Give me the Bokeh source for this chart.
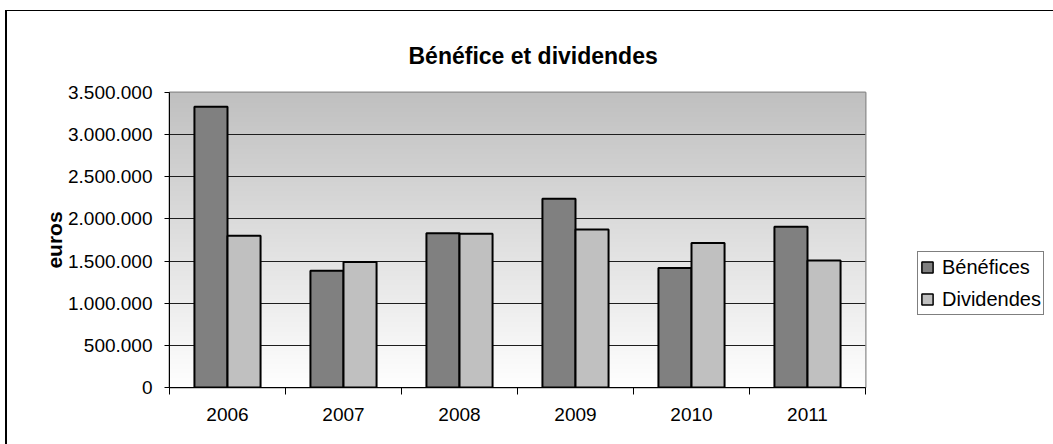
import numpy as np
from bokeh.plotting import figure
from bokeh.layouts import row
from bokeh.models import (Range1d, FixedTicker, Legend, LegendItem)
from bokeh.embed import file_html
from bokeh.resources import INLINE

# ---- data ----
years = ["2006", "2007", "2008", "2009", "2010", "2011"]
benefices = [3330000, 1385000, 1830000, 2240000, 1417000, 1908000]
dividendes = [1800000, 1490000, 1825000, 1876000, 1714000, 1507000]
y_ticks = [0, 500000, 1000000, 1500000, 2000000, 2500000, 3000000, 3500000]
y_tick_labels = ["0", "500.000", "1.000.000", "1.500.000", "2.000.000",
                 "2.500.000", "3.000.000", "3.500.000"]
title_text = "Bénéfice et dividendes"
y_title = "euros"
series_names = ["Bénéfices", "Dividendes"]
colors = ["#808080", "#c0c0c0"]

FONT = "Liberation Sans"
y_max = y_ticks[-1]
n = len(years)
bar_w = 0.285

H = 433
p = figure(width=868, height=H, output_backend="svg", toolbar_location=None,
           x_range=Range1d(0, n), y_range=Range1d(0, y_max),
           min_border_left=162, min_border_right=10, min_border_top=81,
           min_border_bottom=57, title=title_text)
p.title.text_font = FONT
p.title.text_font_size = "23px"
p.title.text_font_style = "bold"
p.title.text_color = "black"
p.title.align = "left"
p.title.offset = 239
p.title.standoff = 48
p.outline_line_color = "#8c8c8c"
p.outline_line_width = 2
p.background_fill_color = "white"

# gradient background of the plot area
rows = 300
shade = np.linspace(255, 192, rows).astype(np.uint32)
img = np.empty((rows, 1), dtype=np.uint32)
img[:, 0] = (255 << 24) | (shade << 16) | (shade << 8) | shade
p.image_rgba(image=[img], x=0, y=0, dw=n, dh=y_max, level="image")

centers = [i + 0.5 for i in range(n)]
xb = [c - bar_w / 2 for c in centers]
xd = [c + bar_w / 2 for c in centers]
p.vbar(x=xb, top=benefices, width=bar_w, bottom=0,
       fill_color=colors[0], line_color="black", line_width=2)
p.vbar(x=xd, top=dividendes, width=bar_w, bottom=0,
       fill_color=colors[1], line_color="black", line_width=2)

# y axis
yax = p.yaxis[0]
yax.ticker = FixedTicker(ticks=y_ticks, minor_ticks=[])
yax.major_label_overrides = {t: s for t, s in zip(y_ticks, y_tick_labels)}
yax.major_label_text_font = FONT
yax.major_label_text_font_size = "19px"
yax.major_label_text_color = "black"
yax.major_tick_out = 5
yax.major_tick_in = 0
yax.major_label_standoff = 12
yax.axis_line_color = "black"
yax.axis_label = y_title
yax.axis_label_text_font = FONT
yax.axis_label_text_font_style = "bold"
yax.axis_label_text_font_size = "21px"
yax.axis_label_text_color = "black"
yax.axis_label_standoff = -1

p.ygrid.ticker = FixedTicker(ticks=y_ticks[1:-1])
p.ygrid.grid_line_color = "#1e1e1e"
p.ygrid.grid_line_width = 1
p.xgrid.visible = False

# x axis
xax = p.xaxis[0]
xax.ticker = FixedTicker(ticks=centers, minor_ticks=list(range(n + 1)))
xax.major_label_overrides = {c: y for c, y in zip(centers, years)}
xax.major_tick_line_color = None
xax.minor_tick_out = 7
xax.minor_tick_in = 0
xax.minor_tick_line_color = "black"
xax.axis_line_color = "black"
xax.major_label_text_font = FONT
xax.major_label_text_font_size = "19px"
xax.major_label_text_color = "black"
xax.major_label_standoff = 13

# legend figure: its (hidden) renderers only serve the legend swatches
lf = figure(width=178, height=H, output_backend="svg", toolbar_location=None,
            x_range=Range1d(0, n), y_range=Range1d(0, y_max),
            x_axis_type=None, y_axis_type=None,
            min_border_left=0, min_border_right=0, min_border_top=0,
            min_border_bottom=0)
lf.outline_line_color = None
lf.background_fill_color = "white"
lf.grid.visible = False
lr1 = lf.vbar(x=xb, top=benefices, width=bar_w, bottom=0, fill_color=colors[0],
              line_color="black", line_width=1.5, visible=False)
lr2 = lf.vbar(x=xd, top=dividendes, width=bar_w, bottom=0, fill_color=colors[1],
              line_color="black", line_width=1.5, visible=False)
legend = Legend(items=[LegendItem(label=series_names[0], renderers=[lr1]),
                       LegendItem(label=series_names[1], renderers=[lr2])],
                location=(42, 72), orientation="vertical",
                label_text_font=FONT, label_text_font_size="20px",
                label_text_color="black",
                glyph_width=14, glyph_height=14, label_standoff=8,
                label_height=26, spacing=6, padding=2, margin=0,
                border_line_color="black", border_line_width=1,
                background_fill_color="white", background_fill_alpha=1)
lf.add_layout(legend, "center")

layout = row(p, lf)
layout.styles = {"border-top": "1px solid #000", "border-left": "2px solid #000",
                 "margin-left": "5px", "margin-top": "10px"}
open("out.html", "w").write(file_html(layout, INLINE))
